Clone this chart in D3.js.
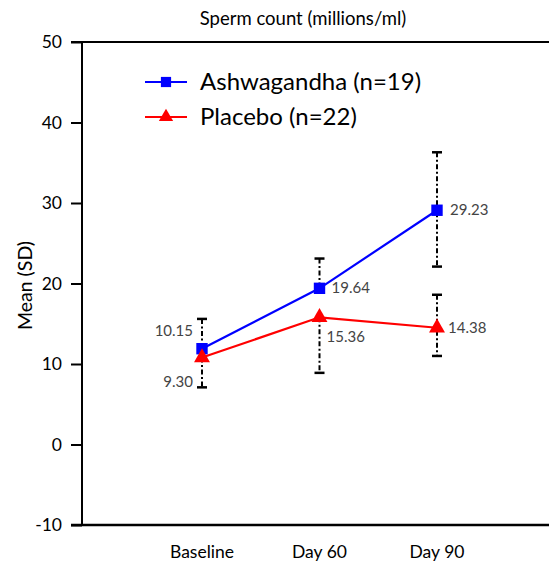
<!DOCTYPE html>
<html lang="en">
<head>
    <meta charset="UTF-8">
    <title>Sperm count</title>
    <script src="https://d3js.org/d3.v7.min.js"></script>
</head>
<body>
<div id='chart'>
    <svg></svg>
</div>
</body>

<style>
    body { margin: 0; background: #fff; }
    text { font-family: Lato, sans-serif; }
    .tick text { font-size: 17.5px; fill: #000; }
    .value { font-size: 15px; fill: #444; }
</style>

<script>
    // data
    const categories = ['Baseline', 'Day 60', 'Day 90'];
    const yTicks = [-10, 0, 10, 20, 30, 40, 50];

    const ashMean = [11.9, 19.4, 29.1];
    const ashHigh = [15.6, 23.1, 36.3];
    const ashLow = [11.9, 19.4, 22.1];
    const ashLabels = ['10.15', '19.64', '29.23'];

    const plaMean = [10.8, 15.8, 14.5];
    const plaHigh = [10.8, 15.8, 18.6];
    const plaLow = [7.1, 8.9, 11.0];
    const plaLabels = ['9.30', '15.36', '14.38'];

    const width = 549;
    const height = 565;
    const marginLeft = 82, plotTop = 42, plotBottom = 525;

    const svg = d3.select('svg')
        .attr('width', width)
        .attr('height', height);

    const x = d3.scalePoint().domain(categories).range([202, 437]);
    const y = d3.scaleLinear().domain([-10, 50]).range([plotBottom, plotTop]);

    // title
    svg.append('text')
        .attr('x', 303).attr('y', 25)
        .attr('text-anchor', 'middle')
        .style('font-size', '18.5px')
        .text('Sperm count (millions/ml)');

    // y axis
    const yAxis = svg.append('g')
        .attr('transform', `translate(${marginLeft},0)`)
        .call(d3.axisLeft(y).tickValues(yTicks).tickSize(11).tickPadding(9)
            .tickFormat(d => String(d)));
    yAxis.selectAll('line, path').attr('stroke', '#000').attr('stroke-width', 2);
    yAxis.select('.domain').attr('d', `M0,${plotTop}V${plotBottom}`);

    // top and bottom frame lines
    svg.append('line')
        .attr('x1', 71).attr('x2', width).attr('y1', y(50)).attr('y2', y(50))
        .attr('stroke', '#000').attr('stroke-width', 2);
    svg.append('line')
        .attr('x1', 71).attr('x2', width).attr('y1', y(-10)).attr('y2', y(-10))
        .attr('stroke', '#000').attr('stroke-width', 2.5);

    // x labels
    svg.append('g').selectAll('text')
        .data(categories)
        .join('text')
        .attr('x', d => x(d))
        .attr('y', 558)
        .attr('text-anchor', 'middle')
        .style('font-size', '17.5px')
        .text(d => d);

    // y axis title
    svg.append('text')
        .attr('transform', `translate(32,${(plotTop + plotBottom) / 2 + 2}) rotate(-90)`)
        .attr('text-anchor', 'middle')
        .style('font-size', '19.5px')
        .text('Mean (SD)');

    const series = [
        {name: 'Ashwagandha (n=19)', color: '#0000ff', mean: ashMean, high: ashHigh, low: ashLow, labels: ashLabels, symbol: d3.symbolSquare, size: 130},
        {name: 'Placebo (n=22)', color: '#ff0000', mean: plaMean, high: plaHigh, low: plaLow, labels: plaLabels, symbol: d3.symbolTriangle, size: 110}
    ];

    // error bars (dash-dot) drawn under the lines
    const gErr = svg.append('g')
        .attr('stroke', '#000');
    series.forEach(s => {
        categories.forEach((c, i) => {
            gErr.append('line')
                .attr('x1', x(c)).attr('x2', x(c))
                .attr('y1', y(s.high[i])).attr('y2', y(s.low[i]))
                .attr('stroke-width', 2)
                .attr('stroke-dasharray', '5,2.5,2,2.5');
            [s.high[i], s.low[i]].forEach(v => {
                if (v !== s.mean[i]) {
                    gErr.append('line')
                        .attr('x1', x(c) - 5).attr('x2', x(c) + 5)
                        .attr('y1', y(v)).attr('y2', y(v))
                        .attr('stroke-width', 2.5);
                }
            });
        });
    });

    const line = d3.line()
        .x((d, i) => x(categories[i]))
        .y(d => y(d));

    series.forEach(s => {
        svg.append('path')
            .datum(s.mean)
            .attr('fill', 'none')
            .attr('stroke', s.color)
            .attr('stroke-width', 2.2)
            .attr('d', line);

        svg.append('g').selectAll('path')
            .data(s.mean)
            .join('path')
            .attr('transform', (d, i) => `translate(${x(categories[i])},${y(d)})`)
            .attr('fill', s.color)
            .attr('d', d3.symbol().type(s.symbol).size(s.size));
    });

    // value labels
    const labelPos = [
        // [dx, dy, anchor] per series per category
        [[-9, -13, 'end'], [12, 5, 'start'], [13, 5, 'start']],
        [[-9, 29, 'end'], [7, 25, 'start'], [11, 5, 'start']]
    ];
    series.forEach((s, si) => {
        svg.append('g').selectAll('text')
            .data(s.labels)
            .join('text')
            .attr('class', 'value')
            .attr('x', (d, i) => x(categories[i]) + labelPos[si][i][0])
            .attr('y', (d, i) => y(s.mean[i]) + labelPos[si][i][1])
            .attr('text-anchor', (d, i) => labelPos[si][i][2])
            .text(d => d);
    });

    // legend
    const legend = svg.append('g').attr('transform', 'translate(145,82)');
    series.forEach((s, i) => {
        const g = legend.append('g').attr('transform', `translate(0,${i * 35})`);
        g.append('line')
            .attr('x1', 0).attr('x2', 42)
            .attr('stroke', s.color).attr('stroke-width', 2.2);
        g.append('path')
            .attr('transform', 'translate(21,0)')
            .attr('fill', s.color)
            .attr('d', d3.symbol().type(s.symbol).size(s.size * 0.8));
        g.append('text')
            .attr('x', 55).attr('y', 8)
            .style('font-size', '24px')
            .text(s.name);
    });
</script>
</html>
